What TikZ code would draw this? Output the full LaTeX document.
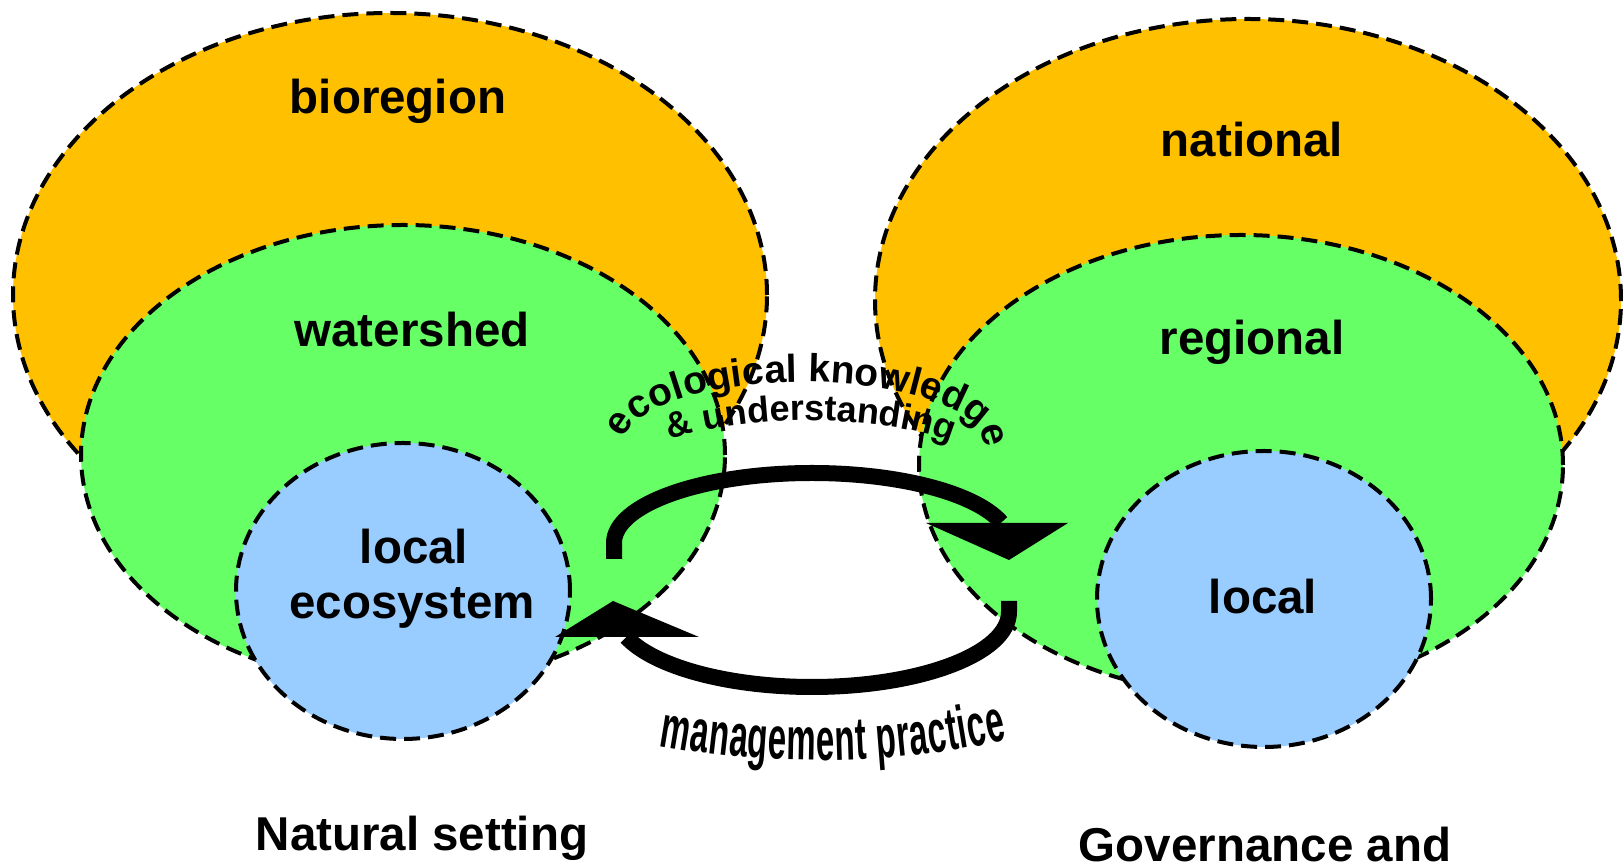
\documentclass[tikz,border=0pt]{standalone}
\usepackage{fontspec}
\setmainfont{Liberation Sans}
\newfontfamily\condfont[FakeStretch=0.55]{Liberation Sans}
\usetikzlibrary{decorations.text}
\definecolor{orng}{RGB}{255,192,0}
\definecolor{grn}{RGB}{102,255,102}
\definecolor{blu}{RGB}{153,204,255}
\begin{document}
\begin{tikzpicture}[x=1pt,y=1pt,
  zone/.style={draw=black, line width=4pt, dash pattern=on 16pt off 8pt},
  lbl/.style={font=\fontsize{47.5}{50}\selectfont\bfseries, anchor=base, inner sep=0pt},
  cyc/.style={line width=16pt, line cap=butt},
  ahead/.style={fill=black}]
\useasboundingbox (0,0) rectangle (1623,864);
% natural setting
\path[zone, fill=orng] (390,569) ellipse [x radius=377, y radius=282];
\path[zone, fill=grn] (403,409) ellipse [x radius=322, y radius=230];
\path[zone, fill=blu] (403,273) ellipse [x radius=167, y radius=148];
% governance
\path[zone, fill=orng] (1248,564) ellipse [x radius=373, y radius=281];
\path[zone, fill=grn] (1241,399) ellipse [x radius=322, y radius=230];
\path[zone, fill=blu] (1264,265) ellipse [x radius=167, y radius=148];
% labels
\node[lbl] (bio) at (398,750) {bioregion};
\node[lbl] (ws) at (412,517) {watershed};
\node[lbl] (le1) at (414,300) {local};
\node[lbl] (le2) at (412,245) {ecosystem};
\node[lbl] (nat) at (1252,707) {national};
\node[lbl] (reg) at (1252,509) {regional};
\node[lbl] (loc) at (1263,250) {local};
\node[lbl] (ns) at (422,13) {Natural setting};
\node[lbl] (gov) at (1265,2) {Governance and};
% cycle arrows
\coordinate (upS) at (614,305);
\coordinate (upC) at (614,321);
\draw[cyc] (upS) -- (upC) arc[start angle=180, end angle=17, x radius=198, y radius=70];
\coordinate (ha1) at (926,341);
\coordinate (ha2) at (1068,341);
\coordinate (ha3) at (1009,304);
\fill[ahead] (ha1) -- (ha2) -- (ha3) -- cycle;
\coordinate (loS) at (1009,263);
\coordinate (loC) at (1009,252);
\draw[cyc] (loS) -- (loC) arc[start angle=0, end angle=-160.5, x radius=197, y radius=75];
\coordinate (hb1) at (555,227);
\coordinate (hb2) at (699,227);
\coordinate (hb3) at (613,263);
\fill[ahead] (hb1) -- (hb2) -- (hb3) -- cycle;
% curved texts
\path[decorate, decoration={text along path, text align={fit to path},
  text={|\bfseries\fontsize{39}{44}\selectfont|ecological knowledge}}]
  (804,420) ++(176:180 and 62) arc[start angle=176, end angle=4, x radius=180, y radius=62];
\path[decorate, decoration={text along path, text align={fit to path},
  text={|\bfseries\fontsize{36}{44}\selectfont|{\&} understanding}}]
  (670,424) .. controls (740,450) and (876,450) .. (945,424);
\path[decorate, decoration={text along path, text align={fit to path},
  text={|\condfont\bfseries\fontsize{60}{64}\selectfont|management practice}}]
  (659,118) .. controls (775,97) and (891,99) .. (1007,124);
\end{tikzpicture}
\end{document}
